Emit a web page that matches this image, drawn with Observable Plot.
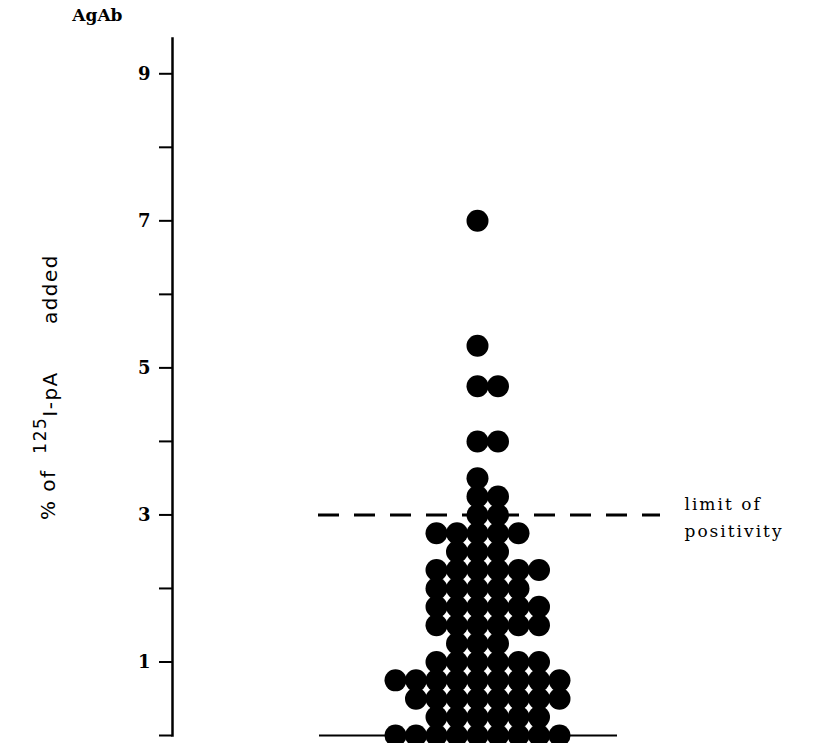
<!DOCTYPE html>
<html>
<head>
<meta charset="utf-8">
<script src="https://cdn.jsdelivr.net/npm/d3@7"></script>
<script src="https://cdn.jsdelivr.net/npm/@observablehq/plot@0.6"></script>
<style>
  html, body { margin: 0; padding: 0; background: #fff; }
</style>
</head>
<body>
<div id="chart"></div>
<script>
// ---- data ----
// each entry: one serum's AgAb value (% of 125I-pA added)
const values = [
  7.0,
  5.3,
  4.75, 4.75,
  4.0, 4.0,
  3.5,
  3.25, 3.25,
  3.0, 3.0,
  2.75, 2.75, 2.75, 2.75, 2.75,
  2.5, 2.5, 2.5,
  2.25, 2.25, 2.25, 2.25, 2.25, 2.25,
  2.0, 2.0, 2.0, 2.0, 2.0,
  1.75, 1.75, 1.75, 1.75, 1.75, 1.75,
  1.5, 1.5, 1.5, 1.5, 1.5, 1.5,
  1.25, 1.25, 1.25,
  1.0, 1.0, 1.0, 1.0, 1.0, 1.0,
  0.75, 0.75, 0.75, 0.75, 0.75, 0.75, 0.75, 0.75, 0.75,
  0.5, 0.5, 0.5, 0.5, 0.5, 0.5, 0.5, 0.5,
  0.25, 0.25, 0.25, 0.25, 0.25, 0.25,
  0.0, 0.0, 0.0, 0.0, 0.0, 0.0, 0.0, 0.0, 0.0
];
const labeledTicks = [1, 3, 5, 7, 9];
const minorTicks = [0, 2, 4, 6, 8];
const limitValue = [3];
const limitText = "limit of\npositivity";
const axisTitle = "AgAb";
const yLabelParts = ["%\u00a0of\u00a0\u00a0", "125", "I-pA\u00a0\u00a0\u00a0\u00a0\u00a0\u00a0added"];

// ---- dot-diagram layout: dots of equal value placed side by side ----
const counts = d3.rollup(values, v => v.length, d => d);
const seen = new Map();
const dots = values.map(v => {
  const k = seen.get(v) ?? 0;
  seen.set(v, k + 1);
  const n = counts.get(v);
  return {value: v, slot: k - Math.floor((n - 1) / 2)};
});

const W = 823, H = 743;
const mL = 172, mR = 0, mT = 38, mB = 8;
const slotPx = 20.5, centerPx = 477;
const xDomain = [-(centerPx - mL) / slotPx, (W - mR - centerPx) / slotPx];

const chart = Plot.plot({
  width: W,
  height: H,
  marginLeft: mL,
  marginRight: mR,
  marginTop: mT,
  marginBottom: mB,
  x: {domain: xDomain, axis: null},
  y: {domain: [0, 9.48], axis: null},
  style: {fontFamily: "DejaVu Serif", background: "#fff", color: "#000"},
  marks: [
    Plot.frame({anchor: "left", strokeWidth: 2.5}),
    Plot.axisY(labeledTicks, {tickSize: 13, tickPadding: 9, strokeWidth: 2, fontSize: 18,
      fontWeight: 600, tickFormat: d => String(d), label: null}),
    Plot.axisY(minorTicks, {tickSize: 13, strokeWidth: 2, tickFormat: () => "", label: null}),
    Plot.ruleY([0], {strokeWidth: 2, insetLeft: 147, insetRight: 206}),
    Plot.ruleY(limitValue, {strokeWidth: 3, strokeDasharray: "21 15", insetLeft: 146, insetRight: 163}),
    Plot.dot(dots, {x: "slot", y: "value", r: 11, fill: "#000", stroke: "none"}),
    Plot.text(limitValue, {y: d => d, text: () => limitText, frameAnchor: "left", dx: 512,
      textAnchor: "start", lineAnchor: "middle", lineHeight: 1.6, fontSize: 17}),
    Plot.text([axisTitle], {frameAnchor: "top-left", textAnchor: "end", lineAnchor: "middle",
      dx: -50, dy: -23, fontSize: 17, fontWeight: 600}),
    Plot.text([yLabelParts.join("")], {frameAnchor: "left", rotate: -90, dx: -124,
      textAnchor: "middle", fontFamily: "DejaVu Sans", fontSize: 20})
  ]
});

// superscript isotope number and letter spacing
const fullLabel = yLabelParts.join("");
d3.select(chart).selectAll("text").each(function() {
  if (this.textContent === fullLabel) {
    const t = d3.select(this);
    t.text(null).attr("letter-spacing", 1.5);
    t.append("tspan").text(yLabelParts[0]);
    t.append("tspan").attr("dy", "-0.55em").attr("font-size", "0.85em").text(yLabelParts[1]);
    t.append("tspan").attr("dy", "0.55em").text(yLabelParts[2]);
  }
});
d3.select(chart).selectAll("text").filter(function() {
  return this.textContent.startsWith("limit") || this.textContent.startsWith("positivity");
}).attr("letter-spacing", 2);

document.getElementById("chart").appendChild(chart);
</script>
</body>
</html>
